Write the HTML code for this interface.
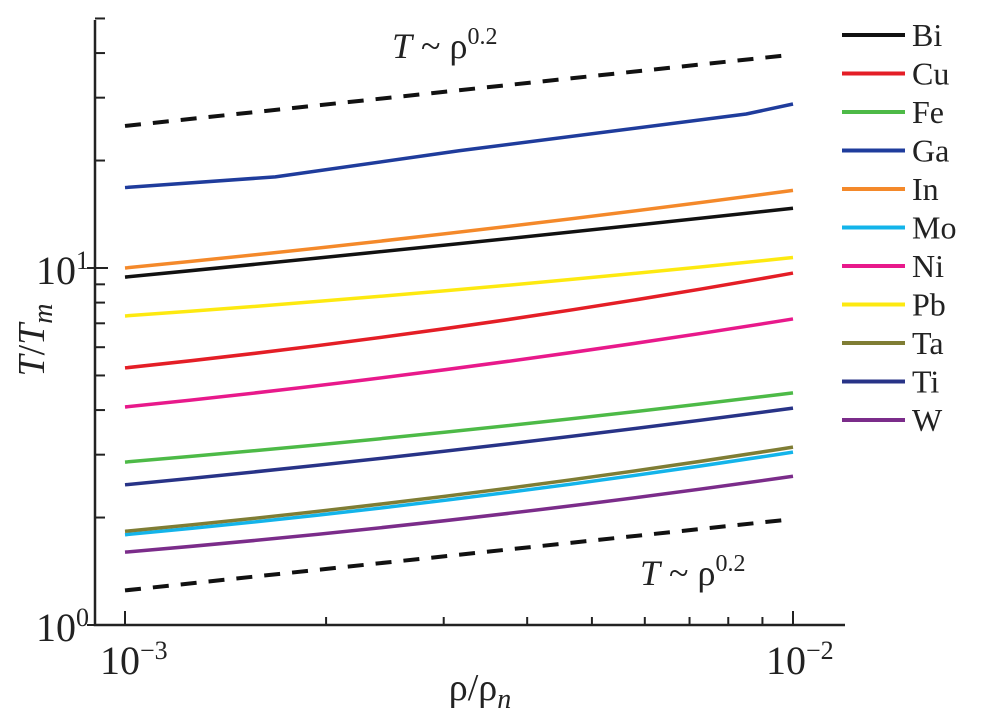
<!DOCTYPE html>
<html><head><meta charset="utf-8"><style>
body{margin:0;background:#fff}
svg{display:block}
text{font-family:"Liberation Serif","Times New Roman",serif}
</style></head><body>
<svg id="c" width="985" height="710"></svg>
<script>
const xs=[-3,-2.5,-2];
const seriesNames=["Bi","Cu","Fe","Ga","In","Mo","Ni","Pb","Ta","Ti","W"];
const seriesColors=["#111111","#e41e26","#4dba47","#1f3c9c","#f4892a","#13b4ea","#e8198b","#fde910","#7f7d34","#283387","#7b2c8a"];
const Bi=[9.43,11.7,14.7];
const Cu=[5.25,6.85,9.68];
const Fe=[2.86,3.5,4.47];
const Ga=[16.8,21.3,28.8];
const In=[10.0,12.6,16.5];
const Mo=[1.79,2.26,3.05];
const Ni=[4.08,5.25,7.2];
const Pb=[7.34,8.7,10.7];
const Ta=[1.83,2.32,3.15];
const Ti=[2.47,3.1,4.05];
const W=[1.6,1.98,2.61];
const seriesVals=[Bi,Cu,Fe,Ga,In,Mo,Ni,Pb,Ta,Ti,W];
const gaExtraX=[-2.775,-2.07];const gaExtra=[18.0,27.0];
const upperRef=[25,39.6];
const lowerRef=[1.25,1.98];
const xMinor=[2,3,4,5,6,7,8,9];
const yMinorD0=[2,3,4,5,6,7,8,9];
const yMinorD1=[2,3,4,5];

const svg=document.getElementById('c');
const NS="http://www.w3.org/2000/svg";
const X=v=>125+(v+3)*668;
const Y=v=>625-Math.log10(v)*357;
function mk(t,a,p){const e=document.createElementNS(NS,t);for(const k in a)e.setAttribute(k,a[k]);(p||svg).appendChild(e);return e;}
let ax=mk('path',{d:'M95 20 L95 625 L845 625',fill:'none',stroke:'#222','stroke-width':2.5});

yMinorD0.forEach(m=>{let t=mk('line',{x1:95,x2:105,y1:Y(m),y2:Y(m),stroke:'#222','stroke-width':2});});
yMinorD1.forEach(m=>{let t=mk('line',{x1:95,x2:105,y1:Y(m*10),y2:Y(m*10),stroke:'#222','stroke-width':2});});
[1,10].forEach(v=>{let t=mk('line',{x1:87,x2:108,y1:Y(v),y2:Y(v),stroke:'#222','stroke-width':2});});
xMinor.forEach(m=>{let t=mk('line',{x1:X(Math.log10(m)-3),x2:X(Math.log10(m)-3),y1:625,y2:617,stroke:'#222','stroke-width':2});});
[-3,-2].forEach(v=>{let t=mk('line',{x1:X(v),x2:X(v),y1:625,y2:611,stroke:'#222','stroke-width':2});});
function txt(x,y,html,size,name,anchor,extra){const e=mk('text',Object.assign({x:x,y:y,'font-size':size,fill:'#222','text-anchor':anchor||'start'},extra||{}));e.innerHTML=html;return e;}
txt(36,284,'10<tspan dy="-15" font-size="26">1</tspan>',40,'y-tick-label-10');
txt(36,641,'10<tspan dy="-15" font-size="26">0</tspan>',40,'y-tick-label-1');
txt(100,674,'10<tspan dy="-15" font-size="26">−3</tspan>',40,'x-tick-label-1e-3');
txt(766,674,'10<tspan dy="-15" font-size="26">−2</tspan>',40,'x-tick-label-1e-2');
txt(480,700,'ρ/ρ<tspan dy="8" font-size="28" font-style="italic">n</tspan>',38,'x-axis-title','middle');
txt(0,0,'<tspan font-style="italic">T</tspan>/<tspan font-style="italic">T</tspan><tspan dy="8" font-size="28" font-style="italic">m</tspan>',38,'y-axis-title','middle',{transform:'translate(44,340) rotate(-90)'});
txt(392,58,'<tspan font-style="italic">T</tspan> ~ ρ<tspan dy="-14" font-size="24">0.2</tspan>',36,'upper-annotation');
txt(640,585,'<tspan font-style="italic">T</tspan> ~ ρ<tspan dy="-14" font-size="24">0.2</tspan>',36,'lower-annotation');
[[upperRef,'upper-reference-line'],[lowerRef,'lower-reference-line']].forEach(([r,n])=>{let l=mk('line',{x1:X(-3),y1:Y(r[0]),x2:X(-2),y2:Y(r[1]),stroke:'#111','stroke-width':4,'stroke-dasharray':'16 12'});});
seriesVals.forEach((vals,i)=>{
  let pts=xs.map((x,j)=>[x,vals[j]]);
  if(seriesNames[i]==='Ga'){pts=[[xs[0],vals[0]],[gaExtraX[0],gaExtra[0]],[xs[1],vals[1]],[gaExtraX[1],gaExtra[1]],[xs[2],vals[2]]];}
  let d='M'+X(pts[0][0])+' '+Y(pts[0][1]);
  if(pts.length===3){
    // smooth quadratic through midpoint
    const cx=X(pts[1][0]), cy=2*Y(pts[1][1])-(Y(pts[0][1])+Y(pts[2][1]))/2;
    d+=' Q'+cx+' '+cy+' '+X(pts[2][0])+' '+Y(pts[2][1]);
  } else {
    for(let k=1;k<pts.length;k++)d+=' L'+X(pts[k][0])+' '+Y(pts[k][1]);
  }
  let p=mk('path',{d:d,fill:'none',stroke:seriesColors[i],'stroke-width':3.5,'stroke-linejoin':'round'});
  
  
  const ly=35+i*38.5;
  let g=mk('g',{});
  
  
  mk('line',{x1:842,x2:905,y1:ly,y2:ly,stroke:seriesColors[i],'stroke-width':4},g);
  let t=mk('text',{x:912,y:ly+11,'font-size':32,fill:'#222'},g);t.textContent=seriesNames[i];
});
</script>
</body></html>
